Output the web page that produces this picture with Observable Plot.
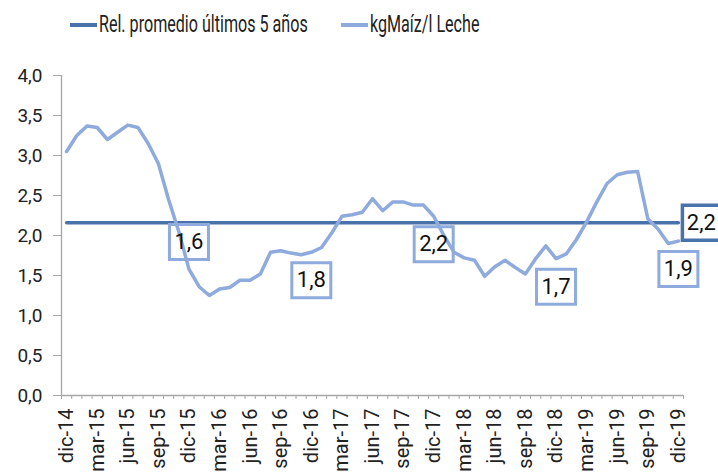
<!DOCTYPE html>
<html><head><meta charset="utf-8">
<script src="https://cdn.jsdelivr.net/npm/d3@7"></script>
<script src="https://cdn.jsdelivr.net/npm/@observablehq/plot@0.6"></script>
<style>
html,body{margin:0;padding:0;background:#fff;width:718px;height:475px;overflow:hidden;}
#legend{position:relative;height:50px;width:718px;font-family:"Roboto",sans-serif;font-size:23px;color:#222;}
.sw{position:absolute;top:23px;width:27px;height:4px;}
.lt{position:absolute;top:12px;white-space:nowrap;transform:scaleX(0.70);transform-origin:0 50%;line-height:26px;}
#chart svg{display:block;}
</style></head><body>
<div id="legend"></div>
<div id="chart"></div>
<script>
// ---- data ----
const months = [
 "dic-14","ene-15","feb-15","mar-15","abr-15","may-15","jun-15","jul-15","ago-15","sep-15","oct-15","nov-15",
 "dic-15","ene-16","feb-16","mar-16","abr-16","may-16","jun-16","jul-16","ago-16","sep-16","oct-16","nov-16",
 "dic-16","ene-17","feb-17","mar-17","abr-17","may-17","jun-17","jul-17","ago-17","sep-17","oct-17","nov-17",
 "dic-17","ene-18","feb-18","mar-18","abr-18","may-18","jun-18","jul-18","ago-18","sep-18","oct-18","nov-18",
 "dic-18","ene-19","feb-19","mar-19","abr-19","may-19","jun-19","jul-19","ago-19","sep-19","oct-19","nov-19",
 "dic-19"];
const maizLeche = [
 3.05,3.25,3.37,3.35,3.20,3.29,3.38,3.35,3.15,2.90,2.45,2.05,
 1.58,1.36,1.25,1.33,1.35,1.44,1.44,1.52,1.79,1.81,1.78,1.76,
 1.79,1.85,2.03,2.24,2.26,2.29,2.46,2.31,2.42,2.42,2.38,2.38,
 2.24,2.00,1.79,1.72,1.69,1.49,1.61,1.69,1.60,1.52,1.71,1.87,
 1.71,1.77,1.95,2.17,2.42,2.65,2.76,2.79,2.80,2.21,2.08,1.90,
 1.93];
const promedio5 = 2.16;
const yTicks = [0,0.5,1,1.5,2,2.5,3,3.5,4];
const xLabelMonths = ["dic-14","mar-15","jun-15","sep-15","dic-15","mar-16","jun-16","sep-16","dic-16","mar-17","jun-17","sep-17","dic-17","mar-18","jun-18","sep-18","dic-18","mar-19","jun-19","sep-19","dic-19"];
const labeledMonths = ["dic-15","dic-16","dic-17","dic-18","dic-19"];
const seriesNames = ["Rel. promedio últimos 5 años","kgMaíz/l Leche"];

// ---- styles ----
const dark = "#4a72aa", light = "#8faadc", axisCol = "#a6a6a6";
const font = '"Roboto",sans-serif';

// ---- legend ----
const leg = document.getElementById("legend");
[[seriesNames[0], dark, 70, 99],[seriesNames[1], light, 341, 370]].forEach(([t,c,l,tl])=>{
  const s = document.createElement("span"); s.className="sw"; s.style.left=l+"px"; s.style.background=c;
  const x = document.createElement("span"); x.className="lt"; x.style.left=tl+"px"; x.textContent=t;
  leg.appendChild(s); leg.appendChild(x);
});

// ---- tables ----
const rows = maizLeche.map((v,i)=>({i, month: months[i], v}));
const avgRows = months.map((m,i)=>({i, v: promedio5}));
const ann = rows.filter(d=>labeledMonths.includes(d.month)).map(d=>({...d, label: d.v.toFixed(1).replace(".",",")}));
const avgAnn = [{i: months.length-1, v: promedio5, label: promedio5.toFixed(1).replace(".",",")}];
const xLo = -0.5, xHi = months.length - 0.5;

const boxSym = {draw(ctx){ ctx.rect(-19.5,-17.5,39,35); }};
const boxSymDark = {draw(ctx){ ctx.rect(-19,-17.5,40,35); }};

const chart = Plot.plot({
  width: 718, height: 425,
  marginTop: 25, marginBottom: 80, marginLeft: 61, marginRight: 35,
  style: {fontFamily: font, fontSize: "17px", color: "#222", background: "white", overflow: "hidden"},
  x: {type: "linear", domain: [xLo, xHi]},
  y: {domain: [0, 4]},
  marks: [
    Plot.axisY({ticks: yTicks, tickFormat: d=>d.toFixed(1).replace(".",","), tickSize: 8, tickPadding: 11, stroke: axisCol, fill: "#222", fontSize: 19, label: null}),
    Plot.axisX({ticks: xLabelMonths.map(m=>months.indexOf(m)), tickFormat: i=>months[i], tickRotate: -90, tickSize: 0, tickPadding: 13, fill: "#222", fontSize: 20, label: null}),
    Plot.axisX({ticks: d3.range(xLo, xHi + 0.01, 1), tickFormat: ()=>"", tickSize: 4, stroke: axisCol, label: null}),
    Plot.ruleY([0], {stroke: axisCol, strokeWidth: 1.3}),
    Plot.ruleX([xLo], {stroke: axisCol, strokeWidth: 1.3}),
    Plot.lineY(avgRows, {x: "i", y: "v", stroke: dark, strokeWidth: 3.5}),
    Plot.lineY(rows, {x: "i", y: "v", stroke: light, strokeWidth: 3.5, strokeLinejoin: "round"}),
    Plot.dot(ann.slice(0,1), {x: "i", y: "v", symbol: boxSym, stroke: light, strokeWidth: 3, fill: "none", dy: -27}),
    Plot.text(ann.slice(0,1), {x: "i", y: "v", text: "label", dy: -27, fontSize: 22, fill: "#111"}),
    Plot.dot(ann.slice(1), {x: "i", y: "v", symbol: boxSym, stroke: light, strokeWidth: 3, fill: "none", dy: 28}),
    Plot.text(ann.slice(1), {x: "i", y: "v", text: "label", dy: 28, fontSize: 22, fill: "#111"}),
    Plot.dot(avgAnn, {x: "i", y: "v", symbol: boxSymDark, stroke: dark, strokeWidth: 3.5, fill: "white", dx: 23}),
    Plot.text(avgAnn, {x: "i", y: "v", text: "label", dx: 23, fontSize: 22, fill: "#111"})
  ]
});
document.getElementById("chart").appendChild(chart);
</script>
</body></html>
